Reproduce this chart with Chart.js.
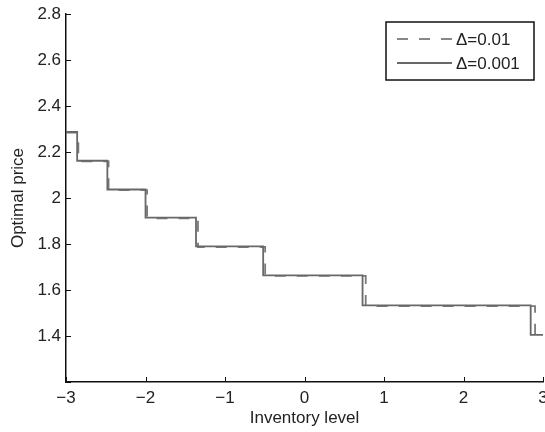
<!DOCTYPE html>
<html>
<head>
<meta charset="utf-8">
<script src="https://cdn.jsdelivr.net/npm/chart.js@4.4.1/dist/chart.umd.min.js"></script>
<style>
  html, body { margin: 0; padding: 0; background: #fff; }
  #wrap { width: 545px; height: 432px; }
</style>
</head>
<body>
<div id="wrap"><canvas id="chart" width="545" height="432"></canvas></div>
<script>
// step break points (x) and price level held from each break point
var fineX = [-3, -2.86, -2.48, -2.0, -1.365, -0.52, 0.73, 2.845, 3];
var fineY = [2.287, 2.162, 2.037, 1.915, 1.790, 1.664, 1.533, 1.405, 1.405];

var coarseX = [-3, -2.845, -2.465, -1.98, -1.34, -0.495, 0.77, 2.90, 3];
var coarseY = [2.284, 2.159, 2.034, 1.912, 1.787, 1.661, 1.530, 1.402, 1.402];

var seriesLabels = ['\u0394=0.01', '\u0394=0.001'];
var xTicks = [-3, -2, -1, 0, 1, 2, 3];

function toPoints(xs, ys) {
  return xs.map(function (x, i) { return { x: x, y: ys[i] }; });
}

var lineColor = '#686868';
var font = "'Liberation Sans', Arial, Helvetica, sans-serif";
var fsize = 17;

// MATLAB style inward ticks
var inwardTicks = {
  id: 'inwardTicks',
  afterDraw: function (chart) {
    var ctx = chart.ctx, area = chart.chartArea;
    var xs = chart.scales.x, ys = chart.scales.y;
    ctx.save();
    ctx.strokeStyle = '#111';
    ctx.lineWidth = 1;
    ctx.beginPath();
    xs.ticks.forEach(function (t) {
      var px = Math.round(xs.getPixelForValue(t.value)) + 0.5;
      ctx.moveTo(px, area.bottom);
      ctx.lineTo(px, area.bottom - 5);
    });
    ys.ticks.forEach(function (t) {
      var py = Math.round(ys.getPixelForValue(t.value)) + 0.5;
      ctx.moveTo(area.left, py);
      ctx.lineTo(area.left + 5, py);
    });
    ctx.stroke();
    ctx.restore();
  }
};

// boxed legend in the top right corner
var boxLegend = {
  id: 'boxLegend',
  afterDraw: function (chart) {
    var ctx = chart.ctx, area = chart.chartArea;
    var right = area.right - 9, top = area.top + 8;
    var w = 148, h = 58;
    var left = right - w;
    ctx.save();
    ctx.fillStyle = '#fff';
    ctx.fillRect(left, top, w, h);
    ctx.strokeStyle = '#111';
    ctx.lineWidth = 1.5;
    ctx.strokeRect(left, top, w, h);
    var order = [1, 0];
    order.forEach(function (di, row) {
      var ds = chart.data.datasets[di];
      var y = top + 17 + row * 24;
      ctx.beginPath();
      ctx.setLineDash(ds.borderDash || []);
      ctx.strokeStyle = ds.borderColor;
      ctx.lineWidth = ds.borderWidth;
      ctx.moveTo(left + 11, y);
      ctx.lineTo(left + 66, y);
      ctx.stroke();
      ctx.setLineDash([]);
      ctx.fillStyle = '#222';
      ctx.font = fsize + 'px ' + font;
      ctx.textBaseline = 'middle';
      ctx.fillText(ds.label, left + 70, y + 1);
    });
    ctx.restore();
  }
};

new Chart(document.getElementById('chart'), {
  type: 'line',
  data: {
    datasets: [
      {
        label: seriesLabels[1],
        data: toPoints(fineX, fineY),
        stepped: 'before',
        borderColor: lineColor,
        borderWidth: 1.8,
        pointRadius: 0,
        fill: false,
        order: 0
      },
      {
        label: seriesLabels[0],
        data: toPoints(coarseX, coarseY),
        stepped: 'before',
        borderColor: '#7a7a7a',
        borderWidth: 1.8,
        borderDash: [11, 11],
        pointRadius: 0,
        fill: false,
        order: 1
      }
    ]
  },
  options: {
    responsive: false,
    animation: false,
    layout: { padding: { top: 14, right: 2, bottom: 0, left: 8 } },
    plugins: {
      legend: { display: false },
      tooltip: { enabled: false }
    },
    scales: {
      x: {
        type: 'linear',
        min: -3,
        max: 3,
        afterBuildTicks: function (s) {
          s.ticks = xTicks.map(function (v) { return { value: v }; });
        },
        afterFit: function (s) { s.paddingRight = 0; s.paddingLeft = 0; s.height = 50; },
        grid: { display: false, drawTicks: false, tickLength: 0 },
        border: { display: true, color: '#111', width: 1.5 },
        ticks: {
          color: '#222',
          padding: 6,
          maxRotation: 0,
          font: { family: font, size: fsize },
          callback: function (v) { return String(v).replace('-', '\u2212'); }
        },
        title: {
          display: true,
          text: 'Inventory level',
          color: '#222',
          padding: { top: 0, bottom: 3 },
          font: { family: font, size: fsize }
        }
      },
      y: {
        type: 'linear',
        min: 1.2,
        max: 2.8,
        afterFit: function (s) { s.paddingTop = 0; s.paddingBottom = 0; },
        grid: { display: false, drawTicks: false, tickLength: 0 },
        border: { display: true, color: '#111', width: 1.5 },
        ticks: {
          stepSize: 0.2,
          color: '#222',
          padding: 5,
          font: { family: font, size: fsize },
          callback: function (v) {
            if (Math.abs(v - 1.2) < 1e-6) { return ''; }
            return String(Math.round(v * 10) / 10);
          }
        },
        title: {
          display: true,
          text: 'Optimal price',
          color: '#222',
          padding: { top: 0, bottom: 4 },
          font: { family: font, size: fsize }
        }
      }
    }
  },
  plugins: [inwardTicks, boxLegend]
});
</script>
</body>
</html>
